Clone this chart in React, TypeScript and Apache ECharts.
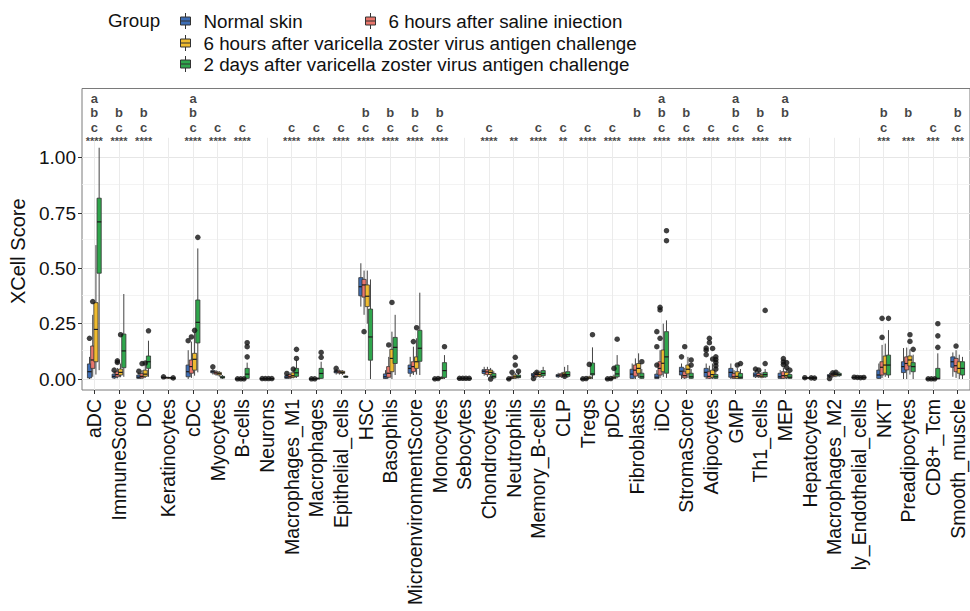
import React, { useEffect, useRef } from 'react';
import * as echarts from 'echarts';

const categories = [
  'aDC', 'ImmuneScore', 'DC', 'Keratinocytes', 'cDC', 'Myocytes', 'B-cells', 'Neurons',
  'Macrophages_M1', 'Macrophages', 'Epithelial_cells', 'HSC', 'Basophils', 'MicroenvironmentScore',
  'Monocytes', 'Sebocytes', 'Chondrocytes', 'Neutrophils', 'Memory_B-cells', 'CLP', 'Tregs', 'pDC',
  'Fibroblasts', 'iDC', 'StromaScore', 'Adipocytes', 'GMP', 'Th1_cells', 'MEP', 'Hepatocytes',
  'Macrophages_M2', 'ly_Endothelial_cells', 'NKT', 'Preadipocytes', 'CD8+_Tcm', 'Smooth_muscle',
];

const groupNames = [
  'Normal skin',
  '6 hours after saline iniection',
  '6 hours after varicella zoster virus antigen challenge',
  '2 days after varicella zoster virus antigen challenge',
];
const groupColors = ['#3d6db5', '#e9766c', '#efbb2f', '#2fa64c'];

// [low whisker, Q1, median, Q3, high whisker]
const normalSkin = [
  [0.0, 0.005, 0.033, 0.068, 0.1], [0.0, 0.005, 0.012, 0.022, 0.035], [0.0, 0.003, 0.008, 0.018, 0.03],
  [0.006, 0.007, 0.007, 0.008, 0.009], [0.0, 0.01, 0.033, 0.063, 0.13], [0.02, 0.028, 0.033, 0.038, 0.045],
  [0.0, 0.0, 0.0, 0.001, 0.002], [0.001, 0.001, 0.002, 0.002, 0.002], [0.0, 0.003, 0.008, 0.015, 0.022],
  [0.0, 0.0, 0.0, 0.001, 0.002], [0.02, 0.028, 0.033, 0.038, 0.045], [0.327, 0.376, 0.417, 0.458, 0.523],
  [0.0, 0.002, 0.01, 0.023, 0.04], [0.01, 0.026, 0.048, 0.063, 0.1], [0.0, 0.0, 0.0, 0.001, 0.002],
  [0.002, 0.002, 0.003, 0.003, 0.004], [0.015, 0.025, 0.035, 0.042, 0.055], [0.0, 0.0, 0.0, 0.001, 0.002],
  [0.005, 0.012, 0.018, 0.025, 0.032], [0.005, 0.01, 0.015, 0.02, 0.028], [0.0, 0.0, 0.0, 0.001, 0.002],
  [0.0, 0.0, 0.0, 0.001, 0.002], [0.0, 0.003, 0.022, 0.044, 0.07], [0.0, 0.002, 0.008, 0.022, 0.04],
  [0.0, 0.018, 0.035, 0.053, 0.07], [0.0, 0.01, 0.03, 0.048, 0.07], [0.0, 0.008, 0.03, 0.048, 0.07],
  [0.005, 0.01, 0.018, 0.028, 0.04], [0.0, 0.003, 0.01, 0.026, 0.04], [0.004, 0.005, 0.005, 0.006, 0.006],
  [0.005, 0.01, 0.015, 0.02, 0.028], [0.005, 0.006, 0.007, 0.008, 0.009], [0.0, 0.003, 0.018, 0.04, 0.07],
  [0.0, 0.029, 0.056, 0.078, 0.14], [0.0, 0.0, 0.0, 0.001, 0.002], [0.01, 0.053, 0.078, 0.1, 0.12],
];
const saline6h = [
  [0.01, 0.048, 0.086, 0.149, 0.29], [0.003, 0.01, 0.02, 0.033, 0.05], [0.0, 0.005, 0.012, 0.025, 0.04],
  [0.006, 0.006, 0.007, 0.007, 0.008], [0.005, 0.026, 0.056, 0.086, 0.169], [0.015, 0.022, 0.028, 0.033, 0.04],
  [0.0, 0.0, 0.0, 0.001, 0.002], [0.001, 0.001, 0.002, 0.002, 0.002], [0.0, 0.005, 0.01, 0.02, 0.03],
  [0.0, 0.0, 0.0, 0.001, 0.002], [0.02, 0.027, 0.032, 0.037, 0.043], [0.29, 0.37, 0.425, 0.45, 0.49],
  [0.003, 0.008, 0.026, 0.056, 0.1], [0.018, 0.033, 0.056, 0.078, 0.146], [0.0, 0.0, 0.001, 0.002, 0.003],
  [0.002, 0.002, 0.003, 0.003, 0.004], [0.01, 0.02, 0.032, 0.042, 0.055], [0.0, 0.002, 0.005, 0.01, 0.018],
  [0.005, 0.012, 0.02, 0.027, 0.035], [0.005, 0.012, 0.018, 0.024, 0.03], [0.0, 0.0, 0.001, 0.002, 0.003],
  [0.0, 0.0, 0.001, 0.002, 0.003], [0.0, 0.013, 0.04, 0.063, 0.093], [0.005, 0.018, 0.048, 0.078, 0.13],
  [0.0, 0.005, 0.015, 0.033, 0.05], [0.0, 0.003, 0.012, 0.033, 0.06], [0.0, 0.003, 0.01, 0.025, 0.04],
  [0.005, 0.01, 0.015, 0.025, 0.035], [0.0, 0.003, 0.015, 0.033, 0.05], [0.004, 0.005, 0.005, 0.006, 0.006],
  [0.005, 0.012, 0.018, 0.025, 0.03], [0.005, 0.006, 0.007, 0.008, 0.009], [0.005, 0.018, 0.053, 0.078, 0.154],
  [0.0, 0.041, 0.07, 0.1, 0.142], [0.0, 0.0, 0.0, 0.001, 0.002], [0.005, 0.033, 0.06, 0.093, 0.13],
];
const vzv6h = [
  [0.02, 0.078, 0.224, 0.345, 0.605], [0.008, 0.018, 0.03, 0.045, 0.07], [0.005, 0.012, 0.022, 0.04, 0.06],
  [0.005, 0.006, 0.006, 0.007, 0.007], [0.015, 0.04, 0.089, 0.116, 0.21], [0.01, 0.018, 0.024, 0.03, 0.036],
  [0.0, 0.0, 0.0, 0.001, 0.002], [0.001, 0.001, 0.002, 0.002, 0.002], [0.003, 0.008, 0.015, 0.028, 0.04],
  [0.0, 0.001, 0.002, 0.004, 0.006], [0.018, 0.025, 0.03, 0.035, 0.04], [0.25, 0.327, 0.374, 0.425, 0.49],
  [0.0, 0.033, 0.093, 0.134, 0.214], [0.02, 0.048, 0.078, 0.1, 0.184], [0.0, 0.002, 0.005, 0.008, 0.012],
  [0.002, 0.002, 0.003, 0.003, 0.004], [0.01, 0.02, 0.03, 0.04, 0.05], [0.0, 0.004, 0.01, 0.018, 0.028],
  [0.005, 0.012, 0.02, 0.028, 0.038], [0.008, 0.015, 0.022, 0.03, 0.055], [0.0, 0.002, 0.005, 0.01, 0.015],
  [0.0, 0.002, 0.006, 0.012, 0.02], [0.005, 0.026, 0.048, 0.07, 0.116], [0.01, 0.033, 0.071, 0.131, 0.25],
  [0.005, 0.023, 0.044, 0.063, 0.1], [0.0, 0.008, 0.02, 0.04, 0.07], [0.0, 0.003, 0.012, 0.033, 0.05],
  [0.003, 0.008, 0.013, 0.02, 0.03], [0.0, 0.008, 0.015, 0.03, 0.045], [0.004, 0.005, 0.005, 0.006, 0.006],
  [0.008, 0.014, 0.02, 0.026, 0.033], [0.005, 0.006, 0.007, 0.008, 0.009], [0.01, 0.026, 0.063, 0.104, 0.16],
  [0.02, 0.059, 0.086, 0.104, 0.134], [0.0, 0.0, 0.0, 0.001, 0.002], [0.0, 0.026, 0.048, 0.078, 0.11],
];
const vzv2d = [
  [0.04, 0.478, 0.71, 0.817, 1.045], [0.01, 0.051, 0.127, 0.203, 0.384], [0.01, 0.048, 0.078, 0.104, 0.173],
  [0.004, 0.004, 0.005, 0.005, 0.005], [0.03, 0.163, 0.256, 0.357, 0.59], [0.0, 0.004, 0.008, 0.012, 0.018],
  [0.0, 0.003, 0.022, 0.048, 0.074], [0.001, 0.001, 0.002, 0.002, 0.002], [0.005, 0.012, 0.028, 0.048, 0.086],
  [0.0, 0.003, 0.025, 0.048, 0.078], [0.005, 0.008, 0.01, 0.013, 0.016], [0.0, 0.085, 0.19, 0.316, 0.45],
  [0.018, 0.07, 0.143, 0.188, 0.29], [0.018, 0.08, 0.139, 0.22, 0.39], [0.0, 0.007, 0.038, 0.074, 0.108],
  [0.002, 0.002, 0.003, 0.003, 0.004], [0.0, 0.005, 0.012, 0.025, 0.035], [0.003, 0.006, 0.01, 0.018, 0.028],
  [0.005, 0.015, 0.025, 0.038, 0.055], [0.005, 0.012, 0.02, 0.033, 0.063], [0.0, 0.018, 0.023, 0.072, 0.143],
  [0.003, 0.01, 0.023, 0.063, 0.108], [0.0, 0.003, 0.01, 0.026, 0.045], [0.005, 0.026, 0.1, 0.214, 0.265],
  [0.0, 0.003, 0.01, 0.026, 0.045], [0.0, 0.003, 0.01, 0.02, 0.035], [0.0, 0.002, 0.008, 0.025, 0.045],
  [0.005, 0.01, 0.02, 0.03, 0.045], [0.0, 0.003, 0.008, 0.02, 0.03], [0.004, 0.005, 0.005, 0.006, 0.006],
  [0.01, 0.015, 0.02, 0.026, 0.033], [0.005, 0.006, 0.007, 0.008, 0.009], [0.005, 0.018, 0.063, 0.108, 0.221],
  [0.0, 0.033, 0.056, 0.074, 0.11], [0.0, 0.0, 0.003, 0.048, 0.116], [0.0, 0.018, 0.048, 0.078, 0.1],
];

// outliers: [category index, value]
const normalSkinOutliers = [
  [0, 0.184], [1, 0.04], [2, 0.035], [3, 0.01], [4, 0.173], [5, 0.055], [6, 0.001], [7, 0.002], [8, 0.025],
  [9, 0.001], [10, 0.048], [14, 0.001], [15, 0.003], [17, 0.001], [18, 0.002], [20, 0.001], [21, 0.001],
  [23, 0.063], [23, 0.146], [23, 0.214], [24, 0.1], [25, 0.11], [25, 0.13], [25, 0.14], [27, 0.045],
  [29, 0.006], [30, 0.002], [31, 0.008], [34, 0.001],
];
const saline6hOutliers = [
  [0, 0.35], [1, 0.075], [1, 0.082], [2, 0.07], [4, 0.19], [6, 0.001], [7, 0.002], [9, 0.001], [11, 0.214],
  [12, 0.154], [13, 0.169], [14, 0.002], [15, 0.003], [17, 0.03], [18, 0.03], [20, 0.002], [21, 0.002],
  [23, 0.184], [23, 0.312], [23, 0.324], [24, 0.146], [25, 0.164], [25, 0.184], [27, 0.04], [28, 0.065],
  [28, 0.077], [28, 0.092], [30, 0.028], [31, 0.007], [32, 0.188], [32, 0.274], [34, 0.001], [35, 0.149],
];
const vzv6hOutliers = [
  [1, 0.2], [2, 0.072], [4, 0.22], [6, 0.001], [7, 0.002], [8, 0.045], [12, 0.346], [13, 0.232], [15, 0.003],
  [16, 0.0], [17, 0.063], [17, 0.098], [19, 0.012], [20, 0.066], [21, 0.048], [25, 0.09], [25, 0.138],
  [26, 0.063], [28, 0.053], [28, 0.074], [29, 0.005], [30, 0.03], [31, 0.006], [33, 0.17], [33, 0.2], [34, 0.001],
];
const vzv2dOutliers = [
  [2, 0.218], [3, 0.005], [4, 0.64], [6, 0.1], [6, 0.146], [6, 0.164], [7, 0.002], [8, 0.093], [8, 0.134],
  [9, 0.098], [9, 0.12], [14, 0.146], [15, 0.003], [17, 0.035], [20, 0.2], [21, 0.18], [22, 0.078],
  [23, 0.625], [23, 0.67], [24, 0.063], [24, 0.086], [25, 0.045], [25, 0.06], [25, 0.075], [25, 0.088],
  [25, 0.1], [26, 0.07], [27, 0.07], [27, 0.31], [28, 0.04], [29, 0.004], [31, 0.007], [32, 0.274],
  [33, 0.134], [34, 0.143], [34, 0.195], [34, 0.25],
];

// significance letters and stars per category
const sigLetters = [
  'abc', 'bc', 'bc', '', 'abc', 'c', 'c', '', 'c', 'c', 'c', 'bc', 'bc', 'bc', 'bc', '', 'c', '', 'c', 'c',
  'c', 'c', 'b', 'abc', 'bc', 'c', 'abc', 'bc', 'ab', '', '', '', 'bc', 'b', 'c', 'bc',
];
const sigStars = [
  '****', '****', '****', '', '****', '****', '****', '', '****', '****', '****', '****', '****', '****',
  '****', '', '****', '**', '****', '**', '****', '****', '****', '****', '****', '****', '****', '****',
  '***', '', '', '', '***', '***', '***', '***',
];

const yMajorTicks = [0, 0.25, 0.5, 0.75, 1];
const yMinorTicks = [0.125, 0.375, 0.625, 0.875];

const FONT = '"Liberation Sans", Arial, Helvetica, sans-serif';
const TEXT_COLOR = '#111111';
const Y_MIN = -0.0497;
const Y_MAX = 1.3127;
const GRID_TOP_VALUE = 1.09;
const ROW_Y = { a: 1.2653, b: 1.202, c: 1.1387 } as Record<string, number>;
const STAR_Y = 1.0755;
const GRID_LEFT = 82;
const GRID_WIDTH = 892;
const BAND = GRID_WIDTH / categories.length;
const DODGE = 0.13;
const BOX_W = 0.17;

const ICON = 'path://M0,4L10,4L10,12L0,12Z M5,0L5,4 M5,12L5,16 M0,8L10,8';

function makeRenderer(gi: number, color: string) {
  return (params: any, api: any) => {
    const ci = api.value(0);
    const band = api.size([1, 0])[0];
    const cx = api.coord([ci, 0])[0] + (gi - 1.5) * band * DODGE;
    const w = band * BOX_W;
    const yLow = api.coord([ci, api.value(1)])[1];
    const yQ1 = api.coord([ci, api.value(2)])[1];
    const yMed = api.coord([ci, api.value(3)])[1];
    const yQ3 = api.coord([ci, api.value(4)])[1];
    const yHigh = api.coord([ci, api.value(5)])[1];
    const stroke = '#333333';
    return {
      type: 'group',
      children: [
        { type: 'line', shape: { x1: cx, y1: yLow, x2: cx, y2: yQ1 }, style: { stroke: '#444444', lineWidth: 1 } },
        { type: 'line', shape: { x1: cx, y1: yQ3, x2: cx, y2: yHigh }, style: { stroke: '#444444', lineWidth: 1 } },
        {
          type: 'rect',
          shape: { x: cx - w / 2, y: yQ3, width: w, height: Math.max(yQ1 - yQ3, 0.8) },
          style: { fill: color, stroke, lineWidth: 0.8 },
        },
        { type: 'line', shape: { x1: cx - w / 2, y1: yMed, x2: cx + w / 2, y2: yMed }, style: { stroke: '#1a1a1a', lineWidth: 1.2 } },
      ],
    };
  };
}

export default function App() {
  const ref = useRef<HTMLDivElement>(null);
  useEffect(() => {
    if (!ref.current) return;
    const chart = echarts.init(ref.current, undefined, { renderer: 'svg' });
    const groups = [normalSkin, saline6h, vzv6h, vzv2d];
    const outliers = [normalSkinOutliers, saline6hOutliers, vzv6hOutliers, vzv2dOutliers];

    const boxSeries = groups.map((g, gi) => ({
      name: groupNames[gi],
      type: 'custom',
      z: 2 + gi * 0.01,
      itemStyle: { color: groupColors[gi] },
      renderItem: makeRenderer(gi, groupColors[gi]),
      encode: { x: 0, y: [1, 2, 3, 4, 5] },
      data: g.map((v, ci) => [ci, ...v]),
    }));

    const outlierSeries = outliers.map((o, gi) => ({
      type: 'scatter',
      z: 3,
      symbol: 'circle',
      symbolSize: 5.5,
      symbolOffset: [(gi - 1.5) * BAND * DODGE, 0],
      itemStyle: { color: '#111111' },
      silent: true,
      data: o.map(([ci, v]) => [ci, v]),
    }));

    const annData: any[] = [];
    categories.forEach((c, i) => {
      sigLetters[i].split('').forEach((ch) => {
        annData.push({
          value: [i, ROW_Y[ch]],
          name: ch,
          label: { fontSize: 13, lineHeight: 12, color: TEXT_COLOR, fontWeight: 'bold' },
        });
      });
      if (sigStars[i]) {
        annData.push({
          value: [i, STAR_Y],
          name: sigStars[i],
          label: { fontSize: 11, lineHeight: 9, color: TEXT_COLOR, fontWeight: 'bold' },
        });
      }
    });

    const gridLineSeries = {
      type: 'line',
      data: [],
      silent: true,
      markLine: {
        silent: true,
        z: 0,
        symbol: ['none', 'none'],
        label: { show: false },
        emphasis: { disabled: true },
        lineStyle: { type: 'solid', color: '#ebebeb', width: 1 },
        data: [
          ...yMajorTicks.map((v) => ({ yAxis: v, lineStyle: { type: 'solid', color: '#e6e6e6', width: 1 } })),
          ...yMinorTicks.map((v) => ({ yAxis: v, lineStyle: { type: 'solid', color: '#f0f0f0', width: 0.8 } })),
          ...categories.map((c, i) => [
            { coord: [i, Y_MIN], lineStyle: { type: 'solid', color: '#ebebeb', width: 1 } },
            { coord: [i, GRID_TOP_VALUE] },
          ]),
        ],
      },
    };

    const legendBase = {
      orient: 'horizontal',
      padding: 0,
      itemWidth: 10,
      itemHeight: 16,
      selectedMode: false,
      textStyle: { fontSize: 18.8, color: TEXT_COLOR, fontFamily: FONT, lineHeight: 20, padding: [0, 0, 0, 8] },
    };
    const legendItem = (gi: number) => ({
      name: groupNames[gi],
      icon: ICON,
      itemStyle: { color: groupColors[gi], borderColor: '#333333', borderWidth: 1 },
    });

    chart.setOption({
      animation: false,
      backgroundColor: '#ffffff',
      textStyle: { fontFamily: FONT },
      legend: [
        { ...legendBase, left: 180, top: 11, data: [legendItem(0)] },
        { ...legendBase, left: 365, top: 11, data: [legendItem(1)] },
        { ...legendBase, left: 180, top: 33, data: [legendItem(2)] },
        { ...legendBase, left: 180, top: 54, data: [legendItem(3)] },
      ],
      graphic: [
        {
          type: 'text',
          left: 108,
          top: 11,
          style: { text: 'Group', fontSize: 18.8, fill: TEXT_COLOR, fontFamily: FONT },
        },
      ],
      grid: {
        left: GRID_LEFT,
        top: 88.5,
        width: GRID_WIDTH,
        height: 301.5,
        show: true,
        borderColor: '#7a7a7a',
        borderWidth: 1,
        backgroundColor: 'transparent',
      },
      xAxis: {
        type: 'category',
        data: categories,
        boundaryGap: true,
        axisLine: { show: false, onZero: false },
        axisTick: { show: true, alignWithLabel: true, length: 4, lineStyle: { color: '#333333' } },
        axisLabel: { interval: 0, rotate: 90, fontSize: 19.5, color: TEXT_COLOR, margin: 9, fontFamily: FONT },
        splitLine: { show: false },
      },
      yAxis: {
        type: 'value',
        min: Y_MIN,
        max: Y_MAX,
        name: 'XCell Score',
        nameLocation: 'middle',
        nameRotate: 90,
        nameGap: 46,
        nameTextStyle: { fontSize: 20, color: TEXT_COLOR, fontFamily: FONT, padding: [0, 24, 0, 0] },
        axisLine: { show: false },
        axisTick: { show: true, length: 4, lineStyle: { color: '#333333' }, customValues: yMajorTicks },
        axisLabel: {
          fontSize: 19,
          color: TEXT_COLOR,
          margin: 6,
          fontFamily: FONT,
          customValues: yMajorTicks,
          formatter: (v: number) => v.toFixed(2),
        },
        splitLine: { show: false },
      },
      series: [
        gridLineSeries,
        ...boxSeries,
        ...outlierSeries,
        {
          type: 'scatter',
          z: 5,
          silent: true,
          symbolSize: 0,
          itemStyle: { color: '#111111' },
          label: {
            show: true,
            position: 'inside',
            formatter: '{b}',
            fontWeight: 'bold',
            color: TEXT_COLOR,
            fontFamily: FONT,
          },
          data: annData,
        },
      ],
    } as any);
    return () => chart.dispose();
  }, []);
  return <div ref={ref} style={{ position: 'fixed', left: 0, top: 0, width: 970, height: 611 }} />;
}
